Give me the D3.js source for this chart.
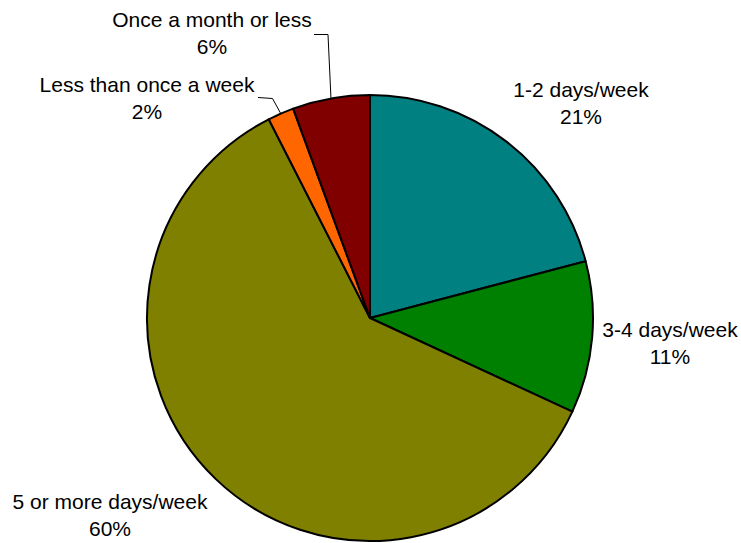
<!DOCTYPE html>
<html>
<head>
<meta charset="utf-8">
<script src="https://cdn.jsdelivr.net/npm/d3@7"></script>
<style>
  html, body { margin: 0; padding: 0; background: #fff; }
  svg { display: block; }
  text { font-family: "Liberation Sans", Arial, Helvetica, sans-serif; fill: #000; }
</style>
</head>
<body>
<svg id="chart" width="741" height="543"></svg>
<script>
// ---- data ----
const categories = ["1-2 days/week", "3-4 days/week", "5 or more days/week", "Less than once a week", "Once a month or less"];
const values = [20.9, 11.0, 60.6, 1.9, 5.6];
const percentLabels = ["21%", "11%", "60%", "2%", "6%"];
const colors = ["#008080", "#008000", "#808000", "#FF6600", "#800000"];

// ---- layout (label positions in pixels, not data) ----
const labelPos = [
  { x: 581, y: 97 },
  { x: 670, y: 337 },
  { x: 110, y: 509 },
  { x: 147, y: 92 },
  { x: 212, y: 27 }
];
const leaders = {
  3: { pts: [[258, 97.5], [272.5, 98.5]] },
  4: { pts: [[314, 34.5], [328, 34.5]] }
};

const W = 741, H = 543;
const cx = 370, cy = 318, R = 223;
const svg = d3.select("#chart");

const pie = d3.pie().sort(null).value(d => d)
  .startAngle(0).endAngle(2 * Math.PI);
const arcs = pie(values);
const arc = d3.arc().innerRadius(0).outerRadius(R);

const g = svg.append("g").attr("transform", `translate(${cx},${cy})`);
g.selectAll("path.slice").data(arcs).enter().append("path")
  .attr("class", "slice")
  .attr("d", arc)
  .attr("fill", (d, i) => colors[i])
  .attr("stroke", "#000")
  .attr("stroke-width", 2)
  .attr("stroke-linejoin", "round");

// leader lines
Object.keys(leaders).forEach(k => {
  const a = arcs[k];
  const mid = (a.startAngle + a.endAngle) / 2;
  const ex = cx + R * Math.sin(mid), ey = cy - R * Math.cos(mid);
  const pts = leaders[k].pts.concat([[ex, ey]]);
  svg.append("path")
    .attr("d", d3.line()(pts))
    .attr("fill", "none")
    .attr("stroke", "#000")
    .attr("stroke-width", 1);
});

// labels
const lab = svg.append("g");
categories.forEach((c, i) => {
  const t = lab.append("text")
    .attr("text-anchor", "middle")
    .attr("font-size", 21)
    .attr("x", labelPos[i].x)
    .attr("y", labelPos[i].y);
  t.append("tspan").attr("x", labelPos[i].x).text(c);
  t.append("tspan").attr("x", labelPos[i].x).attr("dy", 26.5).text(percentLabels[i]);
});
</script>
</body>
</html>
